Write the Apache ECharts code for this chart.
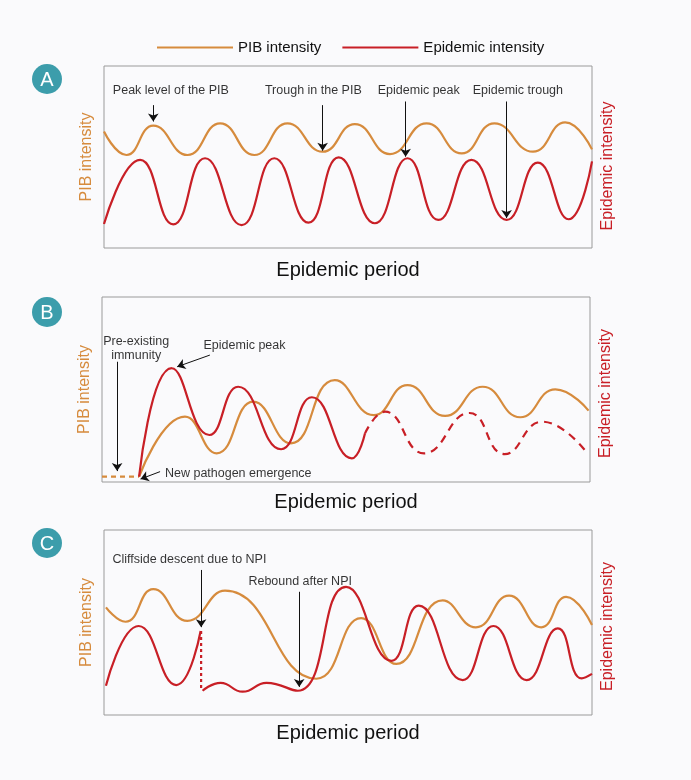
<!DOCTYPE html>
<html>
<head>
<meta charset="utf-8">
<script src="https://cdn.jsdelivr.net/npm/echarts@6/dist/echarts.min.js"></script>
<style>
  html, body { margin: 0; padding: 0; background: #fafafc; }
  #chart { width: 691px; height: 780px; }
</style>
</head>
<body>
<div id="chart"></div>
<script>
// x: position along the epidemic period (0-100), y: intensity (0-100)
const pibA = [[0, 64], [4.6, 51.1], [10.1, 67.2], [17.1, 51.1], [23.8, 68.5], [30.8, 51.1], [37.6, 68.5],
  [44.8, 52.9], [51.4, 68.1], [58.6, 51.6], [66.1, 68.5], [73.3, 52.0], [80.0, 68.5], [87.9, 52.9], [94.5, 69.0], [100, 54.2]]
const epiA = [[0, 13.2], [7.4, 48.4], [14.2, 13.0], [20.7, 49.3], [28.2, 12.6], [34.9, 49.3], [41.9, 13.9],
  [48.1, 49.8], [55.5, 13.6], [62.2, 49.3], [68.5, 15.4], [75.3, 48.4], [82.5, 15.4], [88.9, 46.9], [95.2, 15.8], [100, 47.6]]

const pibBPre = [[0, 2.9], [7.6, 2.9]]
const pibB = [[7.6, 2.9], [17.0, 35.3], [23.5, 15.5], [31.0, 43.4], [38.7, 20.9], [47.7, 55.1], [55.7, 36.2],
  [62.6, 52.4], [70.3, 35.7], [78.0, 51.5], [85.7, 35.0], [92.9, 50.1], [99.7, 38.6]]
const epiB = [[7.6, 2.9], [14.3, 61.5], [22.0, 25.4], [27.9, 51.5], [36.7, 17.7], [43.0, 45.8], [51.2, 12.8], [53.9, 26.3]]
const epiBDash = [[53.9, 26.3], [58.0, 38.0], [66.0, 15.5], [75.3, 37.3], [82.5, 15.1], [90.2, 32.6], [99.2, 16.4]]

const pibC = [[0.4, 58.2], [4.4, 50.4], [10.1, 68.0], [17.1, 50.9], [24.8, 67.2], [43.5, 19.6], [52.7, 52.4],
  [59.9, 27.6], [69.4, 62.0], [76.2, 47.4], [83.0, 64.5], [89.6, 47.4], [94.7, 63.9], [100, 48.6]]
const epiC = [[0.4, 15.8], [7.1, 48.1], [14.8, 16.2], [19.8, 45.4]]
const epiCDrop = [[19.9, 45.4], [19.9, 13.1]]
const epiCAfter = [[20.2, 13.1], [23.9, 17.4], [28.4, 12.6], [33.3, 17.4], [39.7, 13.1], [49.6, 69.3], [58.9, 29.3],
  [64.5, 59.1], [73.5, 18.9], [79.8, 48.1], [86.6, 18.9], [93.0, 46.8], [97.9, 19.8], [100, 22.2]]

// annotations: text anchor and arrows [x1, y1, x2, y2] in data units
const notesA = [
  { text: 'Peak level of the PIB', x: 13.7, y: 86.3 },
  { text: 'Trough in the PIB', x: 42.9, y: 86.3 },
  { text: 'Epidemic peak', x: 64.5, y: 86.3 },
  { text: 'Epidemic trough', x: 84.8, y: 86.3 }
]
const arrowsA = [[10.1, 78.5, 10.1, 69.5], [44.8, 78.5, 44.8, 53.5], [61.8, 80.5, 61.8, 50.2], [82.5, 80.5, 82.5, 16.5]]
const notesB = [
  { text: 'Pre-existing\nimmunity', x: 7.0, y: 72.4 },
  { text: 'Epidemic peak', x: 29.2, y: 73.7 },
  { text: 'New pathogen emergence', x: 12.9, y: 4.7, align: 'left' }
]
const arrowsB = [[3.1, 65.0, 3.1, 5.9], [22.1, 68.6, 15.4, 62.3], [11.9, 5.6, 7.9, 1.6]]
const notesC = [
  { text: 'Cliffside descent due to NPI', x: 17.5, y: 83.8 },
  { text: 'Rebound after NPI', x: 40.2, y: 72.4 }
]
const arrowsC = [[19.9, 78.4, 19.9, 47.5], [40.0, 66.6, 40.0, 15.2]]

const ORANGE = '#d68b3d'
const RED = '#c81f26'
const FONT = '"Liberation Sans", Arial, sans-serif'

const grids = [
  { left: 104, top: 66, width: 488, height: 182, gap: 12, shift: 18, label: 'A', cy: 79 },
  { left: 102, top: 297, width: 488, height: 185, gap: 10, shift: 8, label: 'B', cy: 312 },
  { left: 104, top: 530, width: 488, height: 185, gap: 8, shift: 8, label: 'C', cy: 543 }
]

function line (name, data, color, g, dashed, smooth) {
  return {
    name: name,
    type: 'line',
    xAxisIndex: g,
    yAxisIndex: g * 2,
    data: data,
    smooth: smooth === undefined ? 0.5 : smooth,
    showSymbol: false,
    symbol: 'none',
    silent: true,
    color: color,
    itemStyle: { color: color },
    lineStyle: { color: color, width: 2.2, type: dashed || 'solid' }
  }
}

function notes (g, list, arrows) {
  return {
    type: 'scatter',
    xAxisIndex: g,
    yAxisIndex: g * 2,
    symbolSize: 1,
    silent: true,
    itemStyle: { color: 'transparent' },
    data: list.map(function (n) {
      return {
        name: n.text,
        value: [n.x, n.y],
        label: { align: n.align || 'center' }
      }
    }),
    label: {
      show: true,
      position: 'inside',
      formatter: '{b}',
      color: '#000',
      fontSize: 12.5,
      lineHeight: 14,
      fontFamily: FONT
    },
    markLine: {
      silent: true,
      animation: false,
      symbol: ['none', 'arrow'],
      symbolSize: 8,
      label: { show: false },
      lineStyle: { color: '#111', width: 1, type: 'solid' },
      data: arrows.map(function (a) {
        return [{ coord: [a[0], a[1]] }, { coord: [a[2], a[3]] }]
      })
    }
  }
}

const xAxis = []
const yAxis = []
grids.forEach(function (g, i) {
  xAxis.push({
    gridIndex: i, type: 'value', min: 0, max: 100,
    axisLine: { show: false }, axisTick: { show: false }, axisLabel: { show: false }, splitLine: { show: false },
    name: 'Epidemic period', nameLocation: 'middle', nameGap: g.gap,
    nameTextStyle: { fontSize: 20, color: '#111', fontFamily: FONT }
  })
  yAxis.push({
    gridIndex: i, type: 'value', min: 0, max: 100, position: 'left',
    axisLine: { show: false }, axisTick: { show: false }, axisLabel: { show: false }, splitLine: { show: false },
    name: 'PIB intensity', nameLocation: 'middle', nameGap: 9, nameRotate: 90,
    nameTextStyle: { fontSize: 16, color: ORANGE, fontFamily: FONT }
  })
  yAxis.push({
    gridIndex: i, type: 'value', min: 0, max: 100, position: 'right',
    axisLine: { show: false }, axisTick: { show: false }, axisLabel: { show: false }, splitLine: { show: false },
    name: 'Epidemic intensity', nameLocation: 'middle', nameGap: 8, nameRotate: 90,
    nameTextStyle: { fontSize: 16, color: RED, fontFamily: FONT, padding: [0, g.shift, 0, 0] }
  })
})

const graphic = []
grids.forEach(function (g) {
  graphic.push({ type: 'circle', shape: { cx: 47, cy: g.cy, r: 15 }, style: { fill: '#3c9dab' }, silent: true })
  graphic.push({
    type: 'text', x: 47, y: g.cy + 1, silent: true,
    style: { text: g.label, fill: '#fff', font: '20px ' + FONT, align: 'center', verticalAlign: 'middle' }
  })
})

const option = {
  backgroundColor: '#fafafc',
  animation: false,
  legend: {
    data: ['PIB intensity', 'Epidemic intensity'],
    left: 152,
    top: 35,
    icon: 'rect',
    itemWidth: 76,
    itemHeight: 2,
    itemGap: 21,
    selectedMode: false,
    textStyle: { fontSize: 15, color: '#111', fontFamily: FONT }
  },
  grid: grids.map(function (g) {
    return { left: g.left, top: g.top, width: g.width, height: g.height, show: true, borderColor: '#9a9a9a', borderWidth: 1, backgroundColor: 'transparent' }
  }),
  xAxis: xAxis,
  yAxis: yAxis,
  graphic: graphic,
  series: [
    line('PIB intensity', pibA, ORANGE, 0),
    line('Epidemic intensity', epiA, RED, 0),
    notes(0, notesA, arrowsA),

    line('PIB intensity', pibBPre, ORANGE, 1, [5, 4], false),
    line('PIB intensity', pibB, ORANGE, 1),
    line('Epidemic intensity', epiB, RED, 1),
    line('Epidemic intensity', epiBDash, RED, 1, [8, 6]),
    notes(1, notesB, arrowsB),

    line('PIB intensity', pibC, ORANGE, 2),
    line('Epidemic intensity', epiC, RED, 2),
    line('Epidemic intensity', epiCDrop, RED, 2, [3, 3], false),
    line('Epidemic intensity', epiCAfter, RED, 2),
    notes(2, notesC, arrowsC)
  ]
}

const chart = echarts.init(document.getElementById('chart'))
chart.setOption(option)
</script>
</body>
</html>
